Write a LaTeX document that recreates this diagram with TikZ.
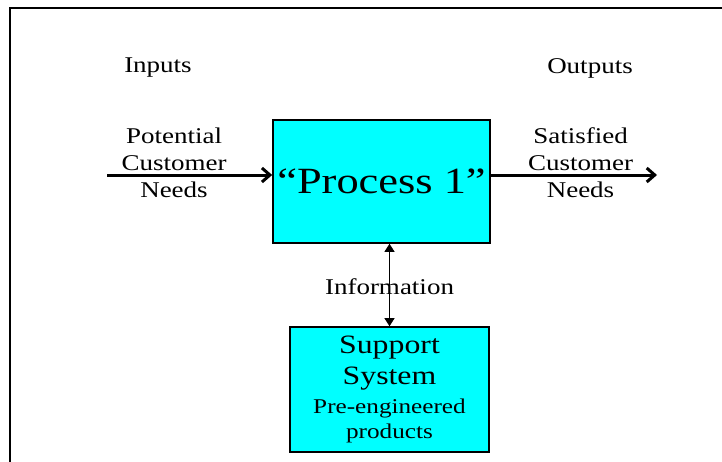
\documentclass[tikz,border=0pt]{standalone}
\usepackage{fontspec}
\setmainfont{Liberation Serif}[FakeStretch=1.2]
\usetikzlibrary{arrows.meta}
\definecolor{aqua}{RGB}{0,255,255}

\begin{document}
\begin{tikzpicture}[
  x=1pt, y=-1pt,
  box/.style={draw, fill=aqua, line width=1.6pt, inner sep=0pt, align=center},
  lbl/.style={align=center, inner sep=0pt, font=\fontsize{22.5}{27}\selectfont},
  flow/.style={line width=3pt, -{Straight Barb[length=8pt,width=14pt]}},
  info/.style={line width=0.9pt, {Triangle[length=8pt,width=10pt]}-{Triangle[length=8pt,width=10pt]}}
]
  \useasboundingbox (0,0) rectangle (722,461);
  % Frame
  \draw[line width=2pt] (10,470) -- (10,8) -- (730,8);

  % Nodes
  \node[box, minimum width=217pt, minimum height=123pt, font=\fontsize{37}{44}\selectfont] (proc) at (381.5,181.5) {“Process 1”};
  \node[box, minimum width=199pt, minimum height=125pt, font=\fontsize{21}{25}\selectfont] (supp) at (389.5,389.5)
    {{\fontsize{26.5}{31}\selectfont Support}\\[6pt]{\fontsize{26.5}{31}\selectfont System}\\[4pt]Pre-engineered\\products};
  \node[lbl] (inputs) at (158,68) {Inputs};
  \node[lbl] (outputs) at (590,68) {Outputs};
  \node[lbl] (needin) at (174,162.5) {Potential\\Customer\\Needs};
  \node[lbl] (needout) at (580.5,162.5) {Satisfied\\Customer\\Needs};
  \coordinate (start) at (107,175);
  \coordinate (stop) at (657,175);

  % Flows
  \draw[flow] (start) -- (start -| proc.west);
  \draw[flow] (start -| proc.east) -- (stop);
  \draw[info] (supp.north |- proc.south) -- (supp.north)
    node[midway, lbl, yshift=-2pt] (infolbl) {Information};
\end{tikzpicture}
\end{document}
